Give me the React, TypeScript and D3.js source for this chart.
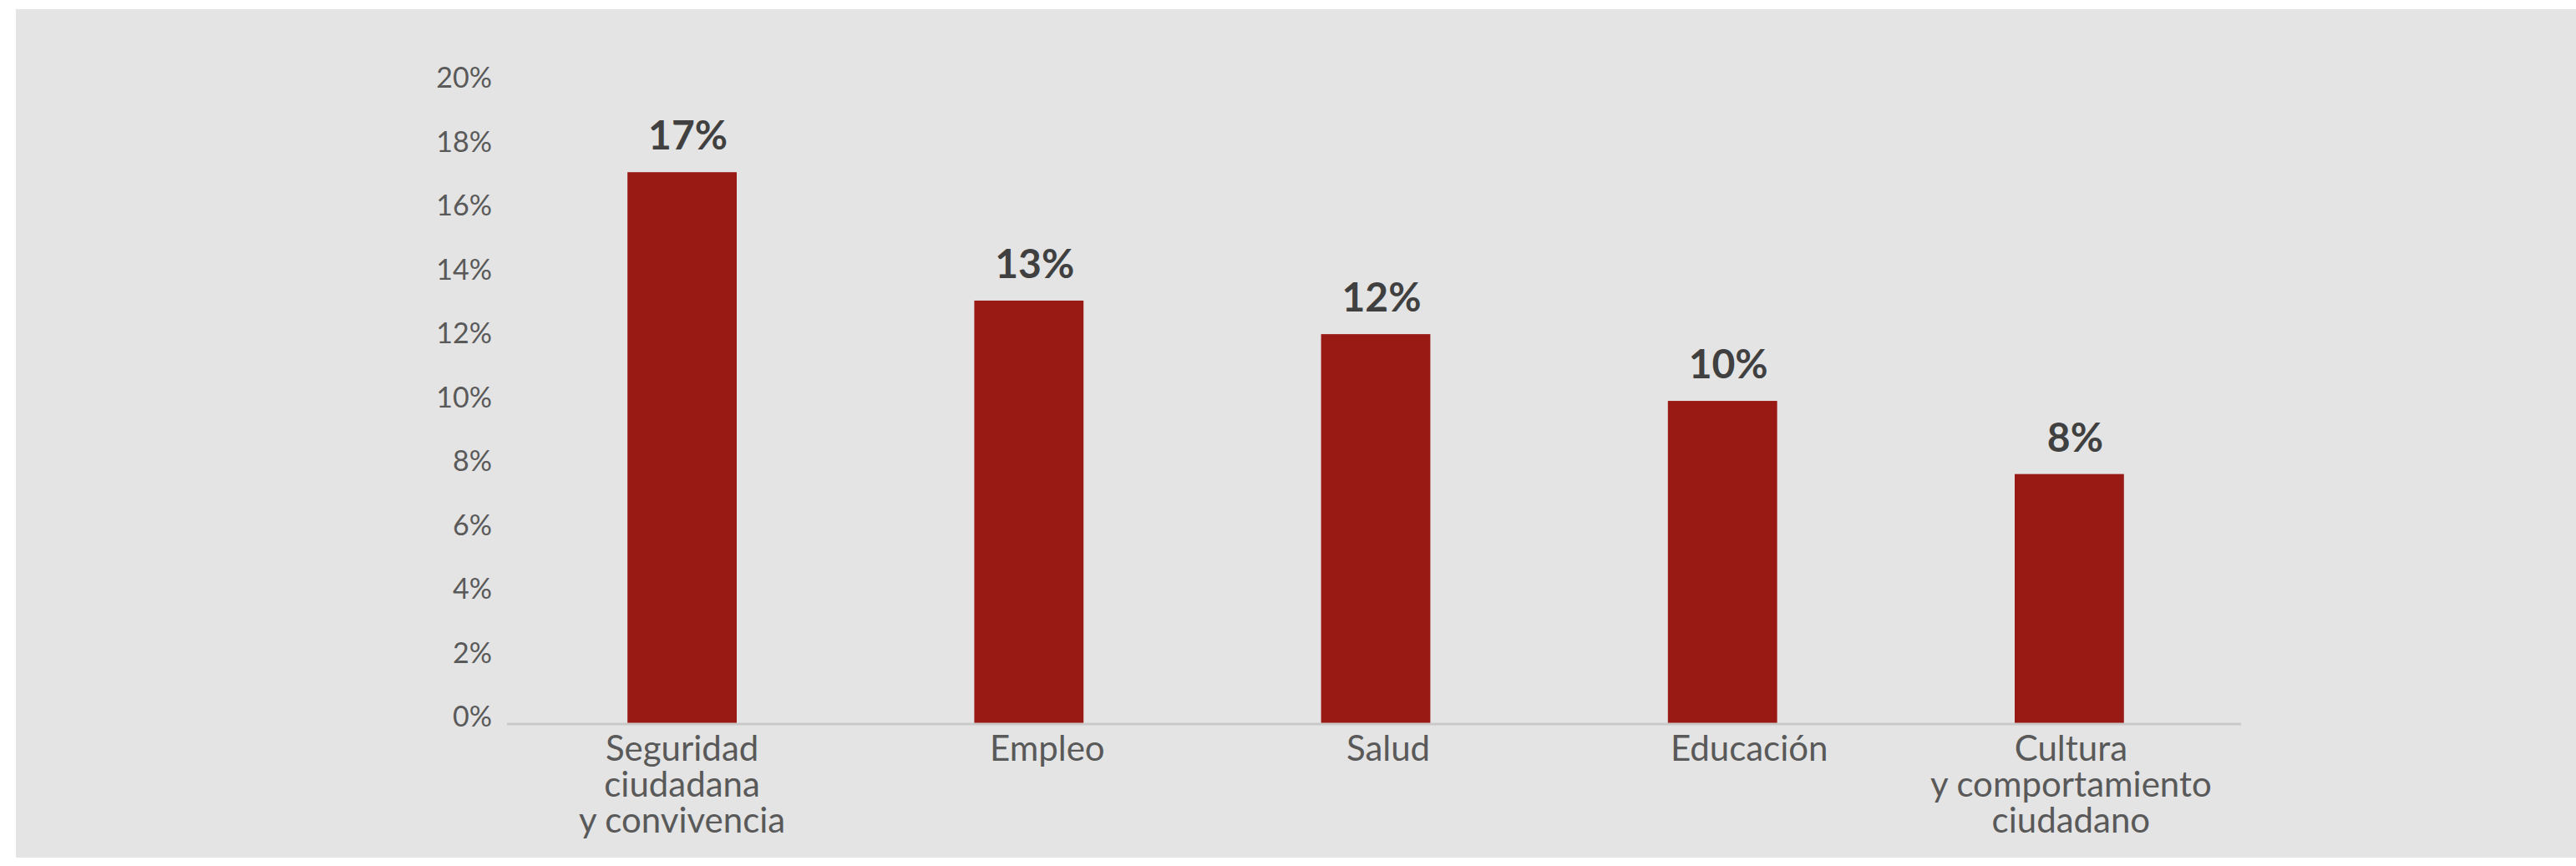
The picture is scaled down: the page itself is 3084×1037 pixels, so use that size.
import React from "react";
import * as d3 from "d3";

const categories: string[][] = [
  ["Seguridad", "ciudadana", "y convivencia"],
  ["Empleo"],
  ["Salud"],
  ["Educación"],
  ["Cultura", "y comportamiento", "ciudadano"],
];
const values: number[] = [17.25, 13.23, 12.18, 10.09, 7.8];
const yTicks: number[] = [0, 2, 4, 6, 8, 10, 12, 14, 16, 18, 20];

// layout only: horizontal nudges of the category labels as placed in the original
const labelNudge: number[] = [0, 22, 15, 32, 2];

const W = 3084;
const H = 1037;

export default function App() {
  const x = d3
    .scaleBand<number>()
    .domain(d3.range(values.length))
    .range([609, 2685])
    .paddingInner(0.685)
    .paddingOuter(0.3425);
  const y = d3.scaleLinear().domain([0, 20]).range([866, 101]);
  const fmt = (v: number) => `${Math.round(v)}%`;

  return (
    <svg
      width={W}
      height={H}
      style={{ position: "fixed", left: 0, top: 0, display: "block" }}
      fontFamily="Lato, 'Open Sans', sans-serif"
    >
      <rect x={0} y={0} width={W} height={H} fill="#ffffff" />
      <rect x={19} y={11} width={W - 19} height={1027 - 11} fill="#e4e4e4" />

      {yTicks.map((t) => (
        <text
          key={t}
          x={589}
          y={y(t) + 4}
          textAnchor="end"
          fontSize={34}
          fill="#595959"
        >
          {`${t}%`}
        </text>
      ))}

      {values.map((v, i) => (
        <rect
          key={i}
          x={x(i)}
          y={y(v)}
          width={x.bandwidth()}
          height={y(0) - y(v)}
          fill="#991915"
        />
      ))}

      <line
        x1={607}
        x2={2683}
        y1={y(0) + 1}
        y2={y(0) + 1}
        stroke="#c9c9c9"
        strokeWidth={3}
      />

      {values.map((v, i) => (
        <text
          key={i}
          x={(x(i) as number) + x.bandwidth() / 2 + 7}
          y={y(v) - 27}
          textAnchor="middle"
          fontSize={48}
          fontWeight={700}
          fill="#404040"
        >
          {fmt(v)}
        </text>
      ))}

      {categories.map((lines, i) => {
        const cx = (x(i) as number) + x.bandwidth() / 2 + labelNudge[i];
        return (
          <text key={i} x={cx} textAnchor="middle" fontSize={42} fill="#595959">
            {lines.map((l, j) => (
              <tspan key={j} x={cx} y={911 + j * 43}>
                {l}
              </tspan>
            ))}
          </text>
        );
      })}
    </svg>
  );
}
